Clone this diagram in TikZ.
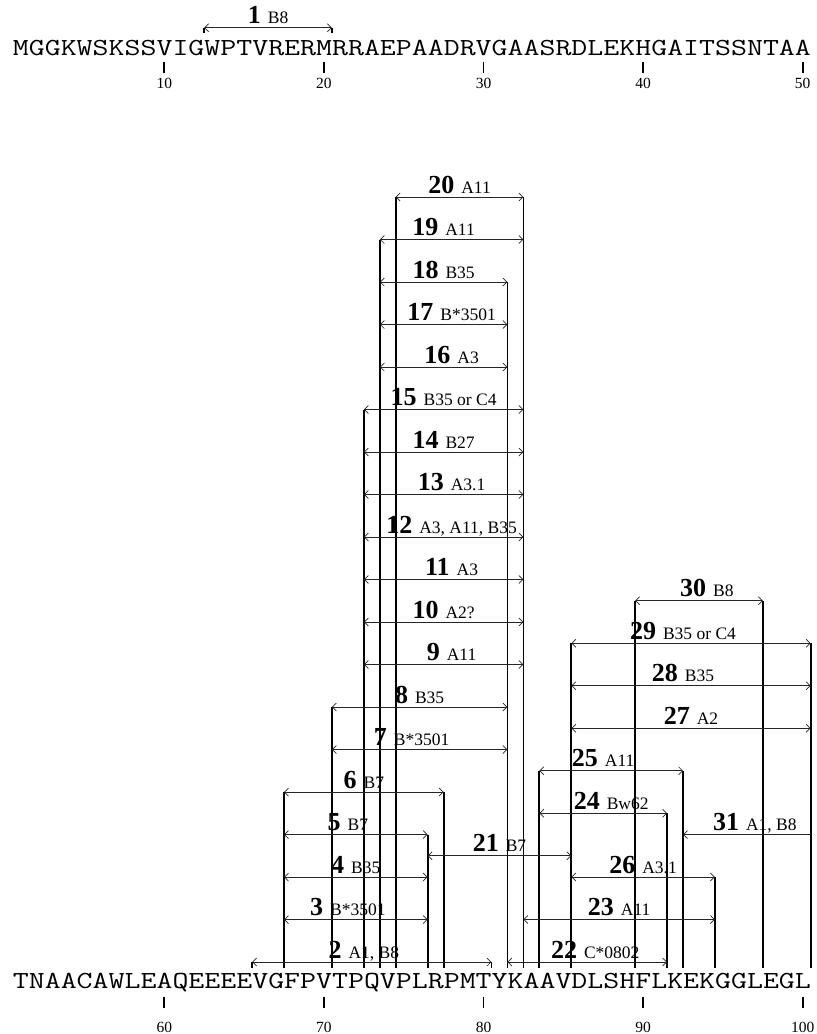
\documentclass[tikz,border=0pt]{standalone}
\usepackage{fontspec}
\usepackage{graphicx}
\setmainfont{Liberation Serif}
\usetikzlibrary{arrows.meta}
\newcommand\epx[1]{(164.3+(#1-10)*15.96)}
\newcommand\epy[1]{(962-(#1-2)*42.5)}
\newcommand\epilab[2]{{\fontsize{26}{26}\selectfont\bfseries #1}\hspace{7pt}{\fontsize{17.5}{17.5}\selectfont #2}}
\newcommand\seqtext[1]{\resizebox{798pt}{\height}{\ttfamily\fontsize{24.5}{24.5}\selectfont #1}}
\begin{document}
\begin{tikzpicture}[x=1pt,y=-1pt,
  epi/.style={line width=0.7pt, black!85},
  dbl/.style={epi,{Straight Barb[length=4pt,width=8pt]}-{Straight Barb[length=4pt,width=8pt]}},
  lft/.style={epi,{Straight Barb[length=4pt,width=8pt]}-},
  bar/.style={line width=1.8pt, black},
  lab/.style={anchor=base, inner sep=0pt},
  seq/.style={anchor=base west, inner sep=0pt},
  num/.style={anchor=base, inner sep=0pt, font=\fontsize{15.5}{15.5}\selectfont}]

\useasboundingbox (0,0) rectangle (817,1034);

% sequences
\node[seq] (seqtop) at (12.7,55) {\seqtext{MGGKWSKSSVIGWPTVRERMRRAEPAADRVGAASRDLEKHGAITSSNTAA}};
\node[seq] (seqbot) at (12.7,988.3) {\seqtext{TNAACAWLEAQEEEEVGFPVTPQVPLRPMTYKAAVDLSHFLKEKGGLEGL}};

% ticks and numbers
\foreach \i in {10,20,30,40,50} {
  \pgfmathtruncatemacro\j{\i+50}
  \coordinate (tta\i) at ({\epx{\i}},61.7);
  \coordinate (ttb\i) at ({\epx{\i}},72.7);
  \draw[bar] (tta\i) -- (ttb\i);
  \node[num] (tn\i) at ({\epx{\i}},88.8) {\i};
  \coordinate (tba\i) at ({\epx{\i}},996.7);
  \coordinate (tbb\i) at ({\epx{\i}},1008.3);
  \draw[bar] (tba\i) -- (tbb\i);
  \node[num] (bn\i) at ({\epx{\i}},1032) {\j};
}

% epitope 1 (top line)
\coordinate (a1-l) at ({\epx{12.5}},27.7);
\coordinate (a1-r) at ({\epx{20.5}},27.7);
\coordinate (a1-lb) at ({\epx{12.5}},33.3);
\coordinate (a1-rb) at ({\epx{20.5}},33.3);
\draw[bar] (a1-l) -- (a1-lb);
\draw[bar] (a1-r) -- (a1-rb);
\draw[dbl] (a1-l) -- (a1-r);
\node[lab] (lab1) at ({\epx{16.5}},23.7) {\epilab{1}{B8}};

% vertical boundary lines (bottom line)
\foreach \b/\k [count=\q] in {15.5/2, 17.5/6, 20.5/8, 22.5/15, 23.5/19, 24.5/20,
    26.5/5, 27.5/6, 30.5/2, 31.5/18, 32.5/20, 33.5/6.5, 35.5/9.5, 39.5/10.5,
    41.5/5.5, 42.5/6.5, 44.5/4, 47.5/10.5, 50.5/9.5} {
  \coordinate (vt\q) at ({\epx{\b}},{\epy{\k}});
  \coordinate (vb\q) at ({\epx{\b}},968.3);
  \draw[bar] (vt\q) -- (vb\q);
}

% epitopes 2-31
\foreach \n/\lab/\l/\r/\k/\c/\t in {
  2/{A1, B8}/15.5/30.5/2/22.5/dbl,
  3/B*3501/17.5/26.5/3/21.5/dbl,
  4/B35/17.5/26.5/4/22/dbl,
  5/B7/17.5/26.5/5/21.5/dbl,
  6/B7/17.5/27.5/6/22.5/dbl,
  7/B*3501/20.5/31.5/7/25.5/dbl,
  8/B35/20.5/31.5/8/26/dbl,
  9/A11/22.5/32.5/9/28/dbl,
  10/A2?/22.5/32.5/10/27.5/dbl,
  11/A3/22.5/32.5/11/28/dbl,
  12/{A3, A11, B35}/22.5/32.5/12/28/dbl,
  13/A3.1/22.5/32.5/13/28/dbl,
  14/B27/22.5/32.5/14/27.5/dbl,
  15/B35 or C4/22.5/32.5/15/27.5/dbl,
  16/A3/23.5/31.5/16/28/dbl,
  17/B*3501/23.5/31.5/17/28/dbl,
  18/B35/23.5/31.5/18/27.5/dbl,
  19/A11/23.5/32.5/19/27.5/dbl,
  20/A11/24.5/32.5/20/28.5/dbl,
  21/B7/26.5/35.5/4.5/31/dbl,
  22/C*0802/31.5/41.5/2/37/dbl,
  23/A11/32.5/44.5/3/38.5/dbl,
  24/Bw62/33.5/41.5/5.5/38/dbl,
  25/A11/33.5/42.5/6.5/37.5/dbl,
  26/A3.1/35.5/44.5/4/40/dbl,
  27/A2/35.5/50.5/7.5/43/dbl,
  28/B35/35.5/50.5/8.5/42.5/dbl,
  29/B35 or C4/35.5/50.5/9.5/42.5/dbl,
  30/B8/39.5/47.5/10.5/44/dbl,
  31/{A1, B8}/42.5/50.5/5/47/lft} {
  \coordinate (a\n-l) at ({\epx{\l}},{\epy{\k}});
  \coordinate (a\n-r) at ({\epx{\r}},{\epy{\k}});
  \draw[\t] (a\n-l) -- (a\n-r);
  \node[lab] (lab\n) at ({\epx{\c}},{\epy{\k}-4}) {\epilab{\n}{\lab}};
}
\end{tikzpicture}
\end{document}
